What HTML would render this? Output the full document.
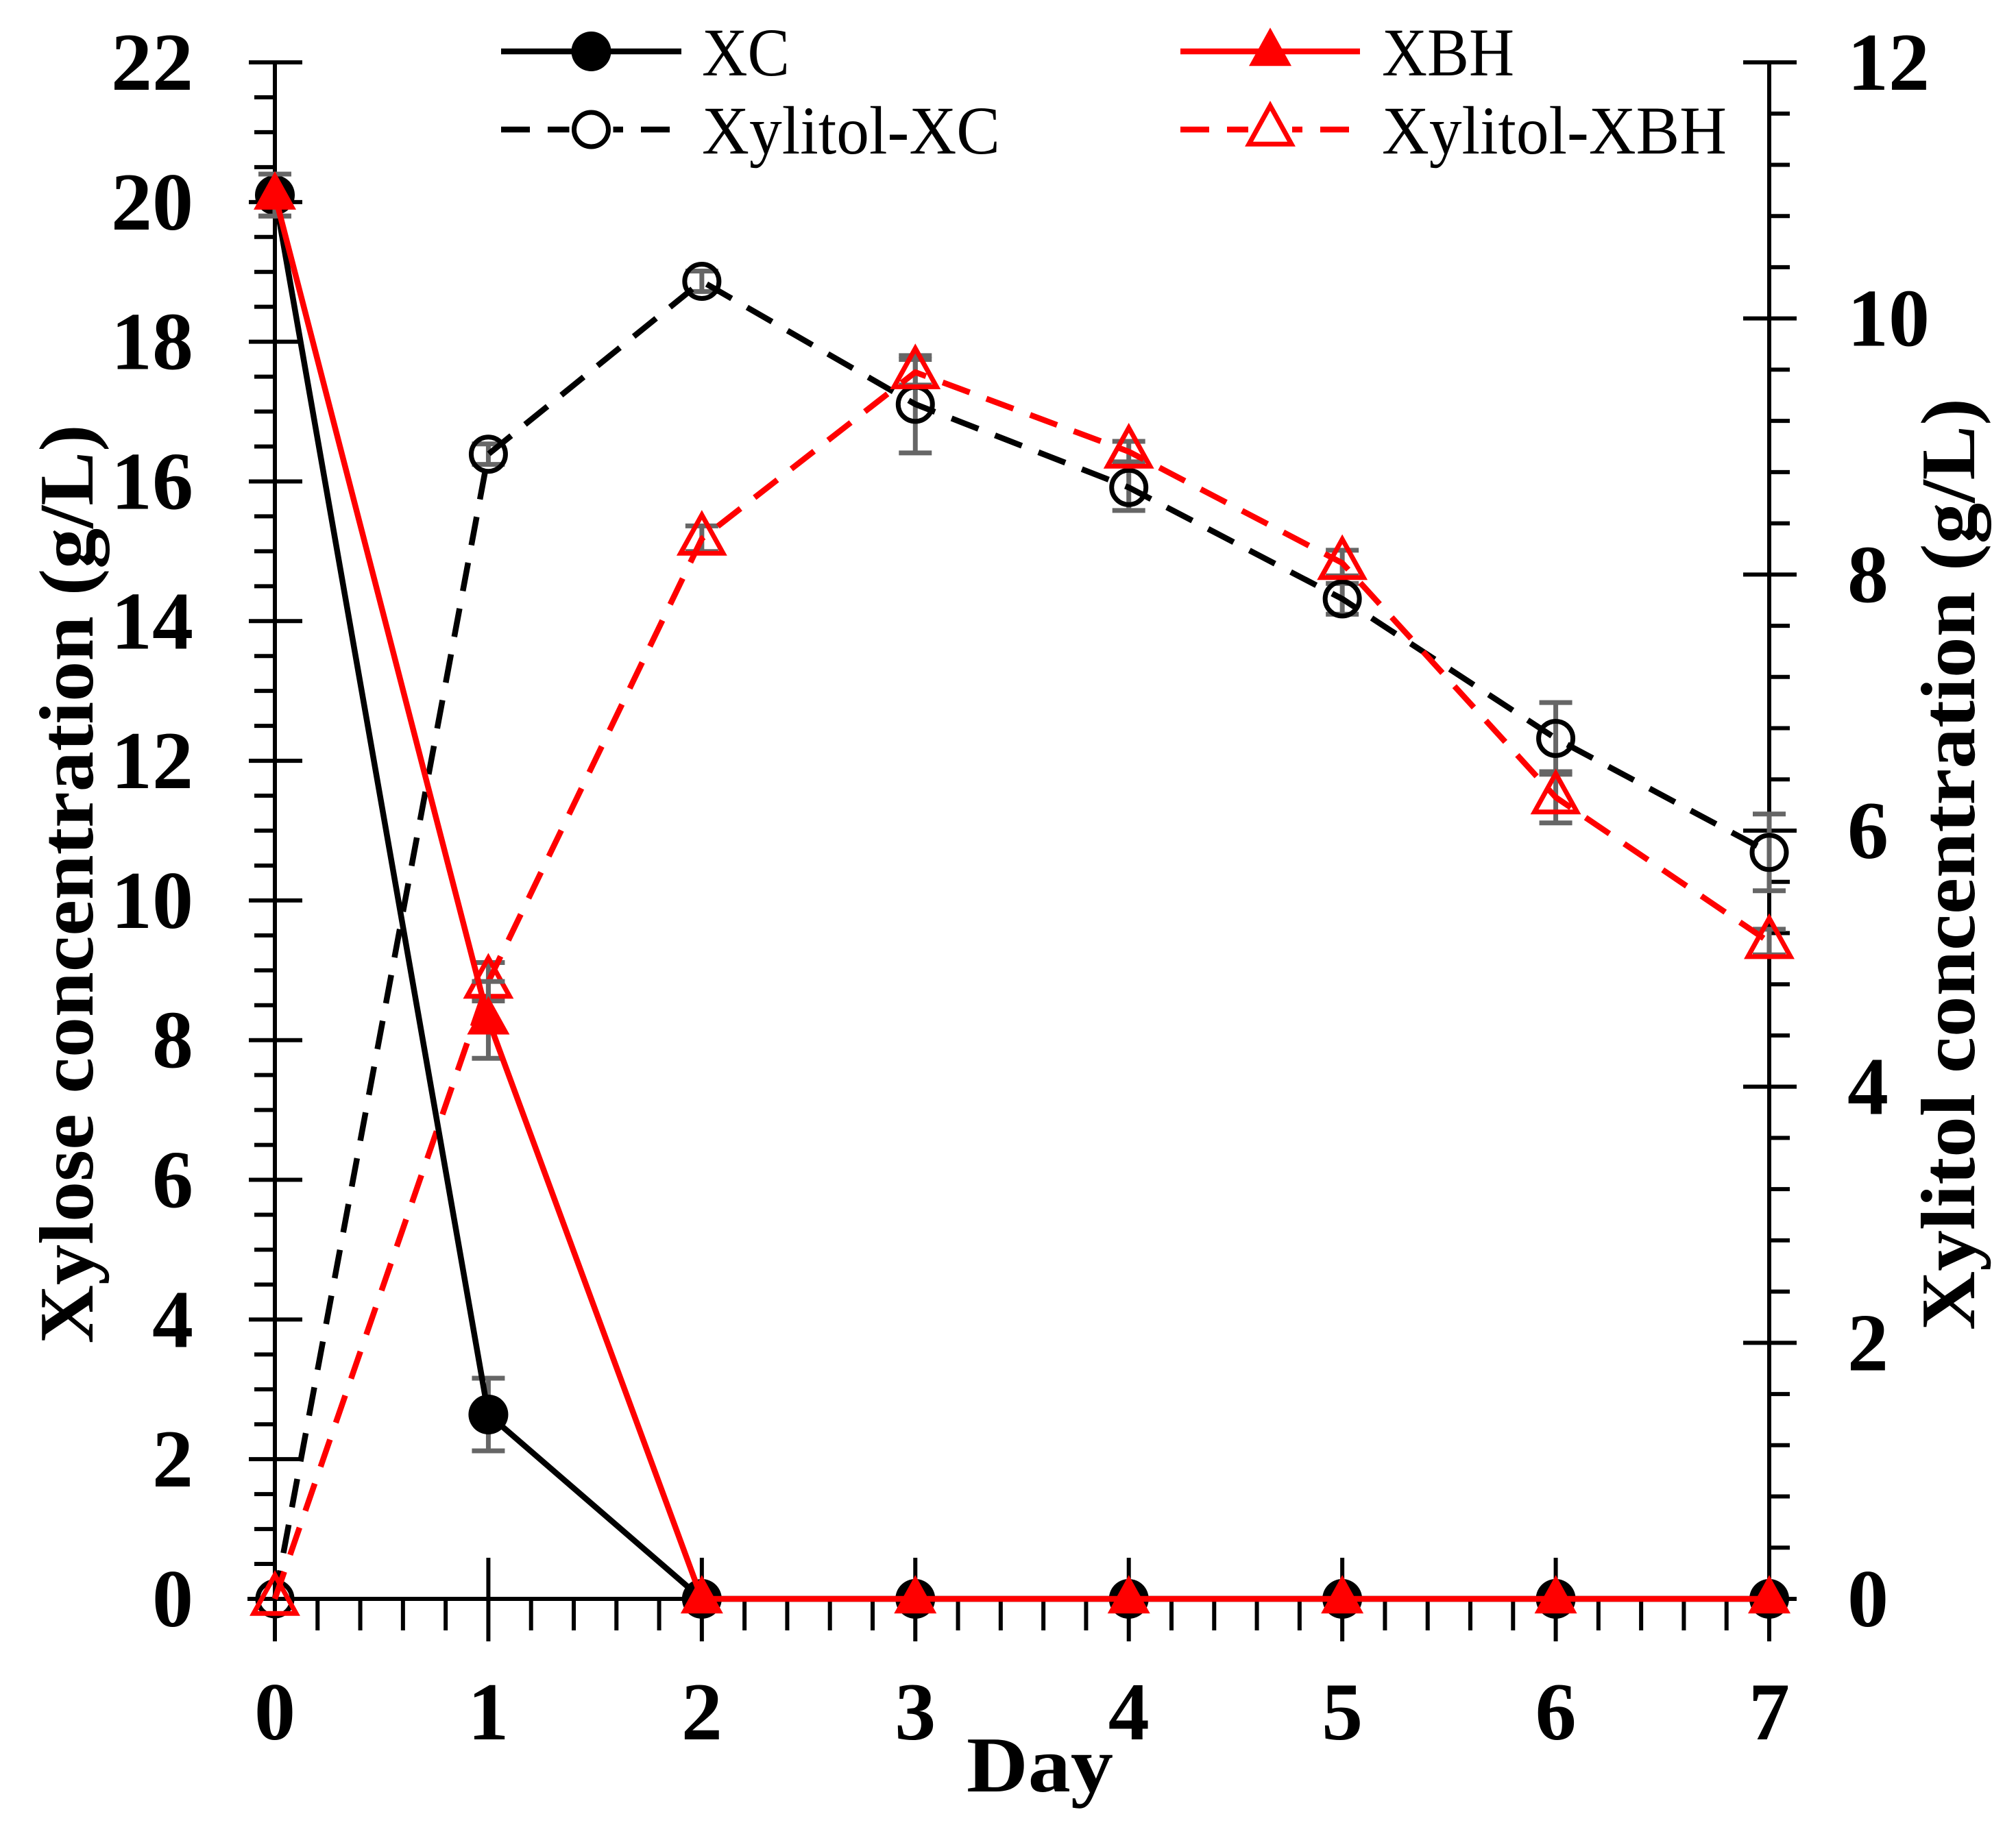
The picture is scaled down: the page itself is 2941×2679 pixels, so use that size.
<!DOCTYPE html>
<html><head><meta charset="utf-8"><style>
html,body{margin:0;padding:0;background:#fff}
svg{display:block}
text{font-family:"Liberation Serif",serif}
</style></head><body>
<svg id="chart" width="2941" height="2679" viewBox="0 0 2941 2679" xmlns="http://www.w3.org/2000/svg"></svg>
<script>
const days = [0,1,2,3,4,5,6,7];
const xylXC = [20.1,2.64,0,0,0,0,0,0];
const xylXCErr = [0.3,0.52,0,0,0,0,0,0];
const xylXBH = [20.1,8.29,0,0,0,0,0,0];
const xylXBHErr = [0.3,0.55,0,0,0,0,0,0];
const xolXC = [0,8.94,10.29,9.33,8.68,7.81,6.72,5.83];
const xolXCErr = [0,0.08,0.08,0.38,0.18,0.12,0.28,0.3];
const xolXBH = [0,4.82,8.28,9.58,8.96,8.09,6.26,5.13];
const xolXBHErr = [0,0.15,0.1,0.1,0.08,0.1,0.2,0.1];
const leftTicks = [0,2,4,6,8,10,12,14,16,18,20,22];
const rightTicks = [0,2,4,6,8,10,12];
const xTicks = [0,1,2,3,4,5,6,7];

const NS="http://www.w3.org/2000/svg";
const svg=document.getElementById('chart');
const X0=401,X1=2581,YB=2333,YT=91;
const LW=8.5;
const sx=d=>X0+(X1-X0)*d/7;
const syL=v=>YB-(YB-YT)*v/22;
const syR=v=>YB-(YB-YT)*v/12;
function el(tag,attrs,parent){const e=document.createElementNS(NS,tag);for(const k in attrs)e.setAttribute(k,attrs[k]);(parent||svg).appendChild(e);return e;}
function line(x1,y1,x2,y2,st,w,p){return el('line',{x1,y1,x2,y2,stroke:st,'stroke-width':w},p);}

const axes=el('g',{});


line(X0,YT,X0,YB,'#000',6,axes);
line(X1,YT,X1,YB,'#000',6,axes);
line(361,YB,2616,YB,'#000',6,axes);
for(let v=0;v<=22.001;v+=0.5){const y=syL(v);const maj=Math.abs(v/2-Math.round(v/2))<1e-6;
  if(maj) line(X0-38,y,X0+40,y,'#000',6,axes); else line(X0-30,y,X0,y,'#000',6,axes);}
for(let v=0;v<=12.001;v+=0.4){const y=syR(v);const maj=Math.abs(v/2-Math.round(v/2))<1e-6;
  if(maj) line(X1-38,y,X1+40,y,'#000',6,axes); else line(X1,y,X1+30,y,'#000',6,axes);}
for(let v=0;v<=7.001;v+=0.2){const x=sx(v);const maj=Math.abs(v-Math.round(v))<1e-6;
  if(maj) line(x,YB-60,x,YB+62,'#000',6,axes); else line(x,YB,x,YB+46,'#000',6,axes);}

leftTicks.forEach(v=>{const t=el('text',{x:282,y:syL(v)+40,'text-anchor':'end','font-size':120,'font-weight':'bold'});t.textContent=v;
  
  });
rightTicks.forEach(v=>{const t=el('text',{x:2695,y:syR(v)+40,'text-anchor':'start','font-size':120,'font-weight':'bold'});t.textContent=v;
  
  });
xTicks.forEach(v=>{const t=el('text',{x:sx(v),y:2538,'text-anchor':'middle','font-size':120,'font-weight':'bold'});t.textContent=v;
  
  });

const xt=el('text',{x:1517,y:2614,'text-anchor':'middle','font-size':115,'font-weight':'bold',textLength:214,lengthAdjust:'spacingAndGlyphs'});xt.textContent='Day';


const yl=el('text',{x:0,y:0,'text-anchor':'middle','font-size':112,'font-weight':'bold',transform:'translate(135,1290) rotate(-90)',textLength:1341,lengthAdjust:'spacingAndGlyphs'});yl.textContent='Xylose concentration (g/L)';


const yr=el('text',{x:0,y:0,'text-anchor':'middle','font-size':112,'font-weight':'bold',transform:'translate(2880,1261) rotate(-90)',textLength:1360,lengthAdjust:'spacingAndGlyphs'});yr.textContent='Xylitol concentration (g/L)';



const ERR='#666';
function errbars(vals,errs,sy,g){vals.forEach((v,i)=>{const e=errs[i];if(!e)return;const x=sx(days[i]);
  line(x,sy(v-e),x,sy(v+e),ERR,7,g);line(x-24,sy(v-e),x+24,sy(v-e),ERR,7,g);line(x-24,sy(v+e),x+24,sy(v+e),ERR,7,g);});}
function marker(kind,x,y,color,g){
  if(kind==='fc') return el('circle',{cx:x,cy:y,r:29,fill:color},g);
  if(kind==='oc') return el('circle',{cx:x,cy:y,r:25,fill:'none',stroke:color,'stroke-width':7},g);
  const h=56,w=62;const pts=`${x},${y-h*0.62} ${x-w/2},${y+h*0.38} ${x+w/2},${y+h*0.38}`;
  if(kind==='ft') return el('polygon',{points:pts,fill:color},g);
  return el('polygon',{points:pts,fill:'none',stroke:color,'stroke-width':7},g);}
function series(name,vals,errs,sy,color,dash,kind){
  const g=el('g',{});
  
  
  errbars(vals,errs,sy,g);
  const pts=vals.map((v,i)=>sx(days[i])+','+sy(v)).join(' ');
  const pl=el('polyline',{points:pts,fill:'none',stroke:color,'stroke-width':LW,'stroke-linejoin':'round'},g);
  if(dash) pl.setAttribute('stroke-dasharray','42 26');
  vals.forEach((v,i)=>{const m=marker(kind,sx(days[i]),sy(v),color,g);
    
    });
}
series('series-xylitol-xc',xolXC,xolXCErr,syR,'#000',true,'oc');
series('series-xylitol-xbh',xolXBH,xolXBHErr,syR,'#f00',true,'ot');
series('series-xc',xylXC,xylXCErr,syL,'#000',false,'fc');
series('series-xbh',xylXBH,xylXBHErr,syL,'#f00',false,'ft');

const lg=el('g',{});


function legend(x1,x2,y,color,dash,kind,label,tx,tl){
  const g=el('g',{},lg);
  
  
  const l=line(x1,y,x2,y,color,LW,g);if(dash)l.setAttribute('stroke-dasharray','42 26');
  const mx=(x1+x2)/2;if(kind==='oc'||kind==='ot'){el('rect',{x:mx-32,y:y-36,width:64,height:66,fill:'#fff'},g);}
  marker(kind,mx,y,color,g);
  const t=el('text',{x:tx,y:y+35,'font-size':100,textLength:tl,lengthAdjust:'spacingAndGlyphs'},g);t.textContent=label;}
legend(731,994,75,'#000',false,'fc','XC',1024,128);
legend(731,994,189,'#000',true,'oc','Xylitol-XC',1024,435);
legend(1722,1984,75,'#f00',false,'ft','XBH',2016,193);
legend(1722,1984,189,'#f00',true,'ot','Xylitol-XBH',2016,503);
</script>
</body></html>
